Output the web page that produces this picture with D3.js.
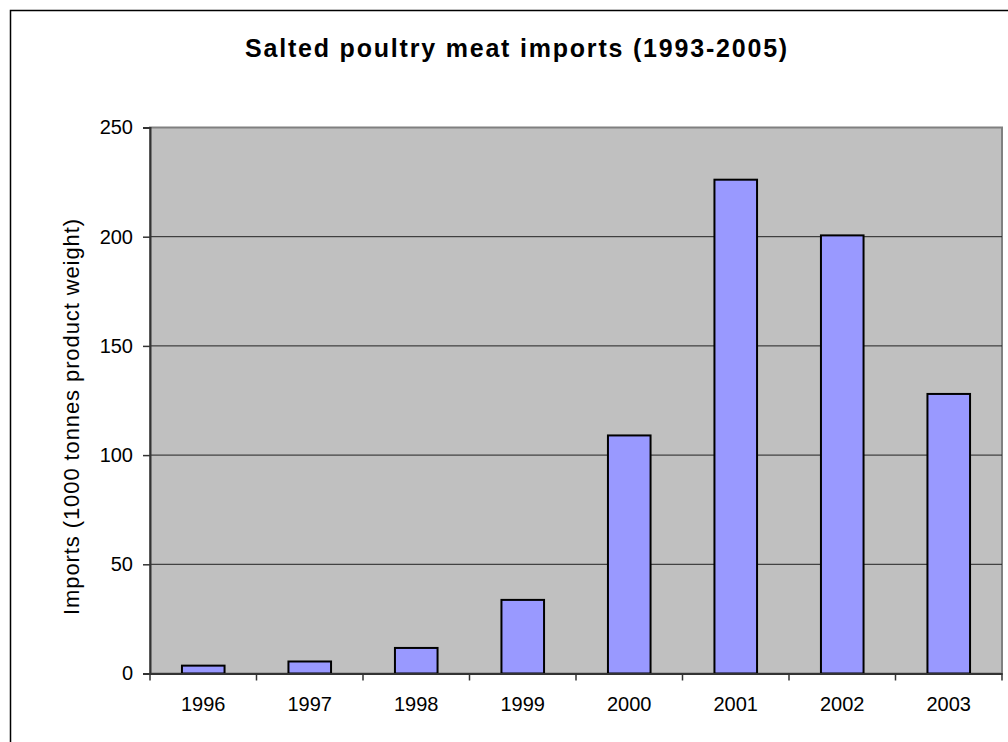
<!DOCTYPE html>
<html>
<head>
<meta charset="utf-8">
<script src="https://cdn.jsdelivr.net/npm/d3@7"></script>
<style>
  html, body { margin: 0; padding: 0; background: #fff; }
  svg { display: block; font-family: "Liberation Sans", Arial, sans-serif; }
</style>
</head>
<body>
<svg id="chart" width="1008" height="742"></svg>
<script>
// Salted poultry meat imports, thousand tonnes product weight
const years = ["1996", "1997", "1998", "1999", "2000", "2001", "2002", "2003"];
const imports = [3.6, 5.5, 11.7, 33.7, 109.0, 226.1, 200.6, 128.0];
const yTicks = [0, 50, 100, 150, 200, 250];

const svg = d3.select("#chart");
const W = 1008, H = 742;
const plot = { left: 150, top: 127.5, right: 1002, bottom: 673.5 };
const FONT = "Liberation Sans, Arial, sans-serif";

// outer chart frame
svg.append("rect")
  .attr("x", 10.5).attr("y", 10.5)
  .attr("width", W + 20).attr("height", H + 20)
  .attr("fill", "#fff").attr("stroke", "#000").attr("stroke-width", 1.5);

const x = d3.scaleBand().domain(years).range([plot.left, plot.right]);
const y = d3.scaleLinear().domain([0, 250]).range([plot.bottom, plot.top]);

// plot background
svg.append("rect")
  .attr("x", plot.left).attr("y", plot.top)
  .attr("width", plot.right - plot.left).attr("height", plot.bottom - plot.top)
  .attr("fill", "#c0c0c0").attr("stroke", "#808080").attr("stroke-width", 2);

// gridlines
svg.append("g").selectAll("line")
  .data(yTicks.filter(d => d > 0 && d < 250))
  .join("line")
  .attr("x1", plot.left).attr("x2", plot.right)
  .attr("y1", d => y(d)).attr("y2", d => y(d))
  .attr("stroke", "#222").attr("stroke-width", 1);

// bars (150% gap width: bar takes 40% of each category)
svg.append("g").selectAll("rect")
  .data(years.map((yr, i) => ({ yr, v: imports[i] })))
  .join("rect")
  .attr("x", d => x(d.yr) + x.bandwidth() * 0.3)
  .attr("width", x.bandwidth() * 0.4)
  .attr("y", d => y(d.v))
  .attr("height", d => y(0) - y(d.v))
  .attr("fill", "#9999ff").attr("stroke", "#000").attr("stroke-width", 2);

// y axis
const yAxis = svg.append("g")
  .attr("transform", `translate(${plot.left},0)`)
  .call(d3.axisLeft(y).tickValues(yTicks).tickSize(7).tickPadding(10));
yAxis.select(".domain").attr("stroke", "#333").attr("stroke-width", 2);
yAxis.selectAll(".tick line").attr("stroke", "#333").attr("stroke-width", 1.5);
yAxis.selectAll(".tick text").attr("font-size", 20).attr("fill", "#000").attr("font-family", FONT);

// x axis
const xAxis = svg.append("g")
  .attr("transform", `translate(0,${plot.bottom})`)
  .call(d3.axisBottom(x).tickSize(0).tickPadding(23));
xAxis.select(".domain").attr("stroke", "#333").attr("stroke-width", 2);
xAxis.selectAll(".tick text").attr("font-size", 20).attr("fill", "#000").attr("font-family", FONT);
// category separators below the axis
xAxis.append("g").selectAll("line")
  .data(d3.range(years.length + 1))
  .join("line")
  .attr("x1", i => plot.left + i * x.bandwidth())
  .attr("x2", i => plot.left + i * x.bandwidth())
  .attr("y1", 0).attr("y2", 7)
  .attr("stroke", "#333").attr("stroke-width", 1.5);

// title
svg.append("text")
  .attr("x", 517).attr("y", 57)
  .attr("text-anchor", "middle")
  .attr("font-size", 25).attr("font-weight", "bold")
  .attr("letter-spacing", 1.8)
  .text("Salted poultry meat imports (1993-2005)");

// y axis label
svg.append("text")
  .attr("transform", `translate(79,${(plot.top + plot.bottom) / 2 + 16}) rotate(-90)`)
  .attr("text-anchor", "middle")
  .attr("font-size", 22)
  .attr("letter-spacing", 0.9)
  .text("Imports (1000 tonnes product weight)");
</script>
</body>
</html>
